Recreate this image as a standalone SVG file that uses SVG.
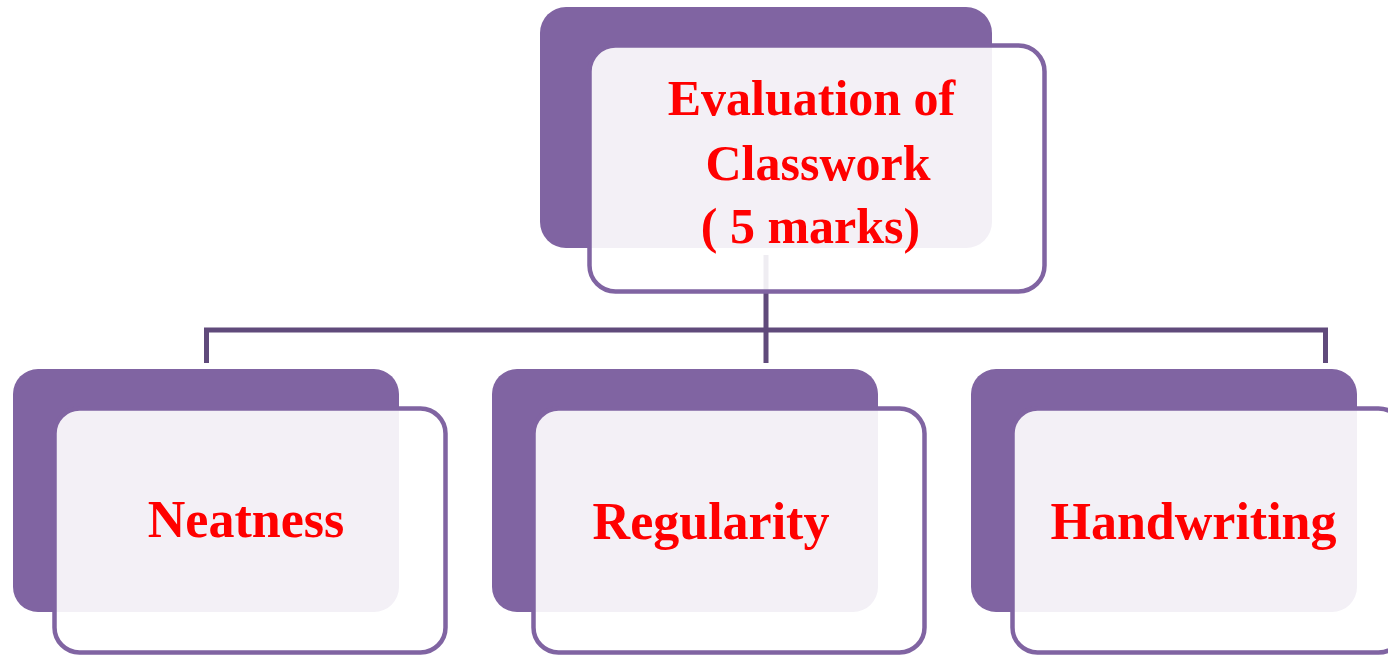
<svg xmlns="http://www.w3.org/2000/svg" width="1388" height="657" viewBox="0 0 1388 657">
<style>
.back{fill:#8064a2;}
.front{fill:#ffffff;fill-opacity:0.9;stroke:#8064a2;stroke-width:4.5;}
.conn{fill:none;stroke:#604a7b;stroke-width:5;}
.lbl{font-family:"Liberation Serif","Times New Roman",serif;font-weight:bold;fill:#ff0000;text-anchor:middle;}
</style>
<rect width="1388" height="657" fill="#ffffff"/>
<g id="connectors">
<path class="conn" d="M766 255 V330 M206.5 363 V330 H1325.5 V363 M766 330 V363"/>
</g>
<g id="node-top">
<rect class="back" x="540" y="7" width="452" height="241" rx="26"/>
<rect class="front" x="589.5" y="45.5" width="455" height="246" rx="26"/>
<text class="lbl" font-size="50"><tspan x="811.5" y="115">Evaluation of</tspan><tspan x="818" y="180">Classwork</tspan><tspan x="810.5" y="243">( 5 marks)</tspan></text>
</g>
<g id="node-neatness">
<rect class="back" x="13" y="369" width="386" height="243" rx="25"/>
<rect class="front" x="54.5" y="408.5" width="391" height="244" rx="25"/>
<text class="lbl" font-size="52" x="246" y="537">Neatness</text>
</g>
<g id="node-regularity">
<rect class="back" x="492" y="369" width="386" height="243" rx="25"/>
<rect class="front" x="533.5" y="408.5" width="391" height="244" rx="25"/>
<text class="lbl" font-size="52" x="711" y="539">Regularity</text>
</g>
<g id="node-handwriting">
<rect class="back" x="971" y="369" width="386" height="243" rx="25"/>
<rect class="front" x="1012.5" y="408.5" width="391" height="244" rx="25"/>
<text class="lbl" font-size="52" x="1193.5" y="539">Handwriting</text>
</g>
</svg>
